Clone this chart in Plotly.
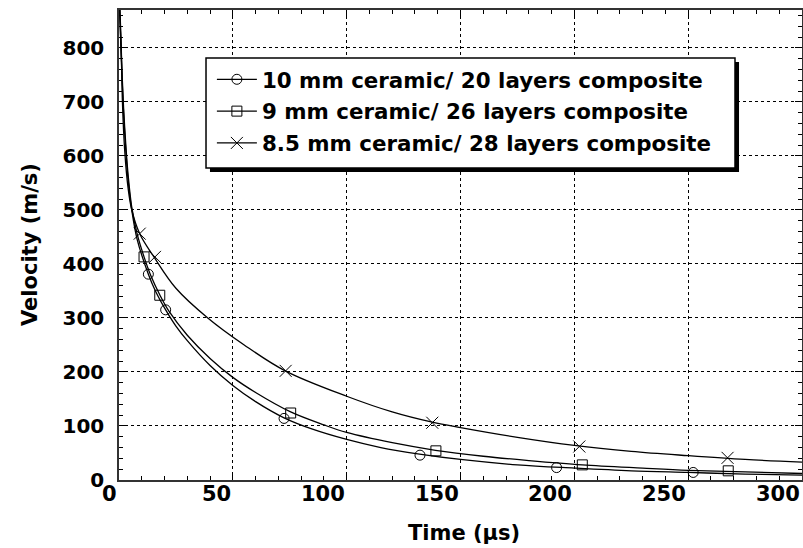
import plotly.graph_objects as go

# ---- data ----
series_names = [
    "10 mm ceramic/ 20 layers composite",
    "9 mm ceramic/ 26 layers composite",
    "8.5 mm ceramic/ 28 layers composite",
]

# measured points (markers)
circle_t = [12.9, 20.5, 72.5, 132.2, 192.2, 252.2]
circle_v = [381, 315, 114, 46, 23, 14]
square_t = [11.0, 17.9, 75.4, 139.2, 203.5, 267.6]
square_v = [413, 342, 124, 54, 28, 17]
cross_t = [9.1, 15.8, 73.2, 137.6, 202.2, 267.3]
cross_v = [456, 413, 202, 106, 62, 41]

# fitted curves
circle_fit_t = [0.3, 1, 2, 3, 4, 5.6, 8, 12.9, 16, 20.5, 25, 30, 40, 50, 60, 72.5, 85, 100, 115, 132, 150, 175, 200, 225, 250, 275, 300]
circle_fit_v = [870, 780, 680, 610, 555, 500, 445, 381, 350, 315, 285, 258, 212, 175, 145, 115, 94, 75, 60, 48, 38, 28, 22, 17, 14, 11, 9]
square_fit_t = [0.3, 1, 2, 3, 4, 5.6, 8, 11, 14, 18, 22, 30, 40, 50, 60, 75.4, 90, 100, 120, 139, 160, 180, 203.5, 230, 250, 275, 300]
square_fit_v = [870, 790, 690, 620, 565, 505, 455, 413, 378, 342, 312, 268, 225, 190, 162, 126, 102, 88, 69, 55, 44, 36, 28, 22, 18, 15, 12]
cross_fit_t = [0.4, 1, 1.5, 2.5, 4, 5.6, 9.1, 15.5, 25, 39, 55, 73, 100, 120, 137.6, 150, 175, 200, 225, 250, 275, 300]
cross_fit_v = [870, 800, 700, 610, 540, 500, 456, 412, 355, 300, 250, 202, 155, 126, 107, 97, 79, 64, 53, 45, 38, 33]

x_ticks = [0, 50, 100, 150, 200, 250, 300]
y_ticks = [0, 100, 200, 300, 400, 500, 600, 700, 800]

FONT = "DejaVu Sans, Liberation Sans, sans-serif"

fig = go.Figure()

fits = [(circle_fit_t, circle_fit_v), (square_fit_t, square_fit_v), (cross_fit_t, cross_fit_v)]
pts = [(circle_t, circle_v, "circle-open", 10), (square_t, square_v, "square-open", 10), (cross_t, cross_v, "x-thin-open", 12)]

for i, (name, (ft, fv), (pt, pv, sym, sz)) in enumerate(zip(series_names, fits, pts)):
    fig.add_trace(go.Scatter(x=ft, y=fv, mode="lines", line=dict(color="black", width=1.3, shape="spline"),
                             showlegend=False, hoverinfo="skip"))
    fig.add_trace(go.Scatter(x=pt, y=pv, mode="markers", showlegend=False,
                             marker=dict(symbol=sym, size=sz, color="black", line=dict(color="black", width=1))))
    # legend sample: line + marker
    fig.add_trace(go.Scatter(x=[None], y=[None], mode="lines+markers", name=name, legendgroup=f"g{i}",
                             line=dict(color="black", width=1.2),
                             marker=dict(symbol=sym, size=sz, color="black", line=dict(color="black", width=1))))

axis_common = dict(
    showline=True, linecolor="#333", linewidth=1.5, mirror="ticks",
    ticks="inside", ticklen=7, tickwidth=1, tickcolor="black",
    showgrid=True, gridcolor="black", griddash="dot", gridwidth=1,
    zeroline=False, automargin=False,
)

# legend frame with drop shadow (paper coords)
fig.add_shape(type="rect", xref="paper", yref="paper", x0=0.1332, x1=0.9078, y0=0.6553, y1=0.8894,
              fillcolor="black", line=dict(width=0), layer="above")
fig.add_shape(type="rect", xref="paper", yref="paper", x0=0.1274, x1=0.9019, y0=0.6638, y1=0.8979,
              fillcolor="white", line=dict(color="black", width=1.5), layer="above")

annotations = [
    dict(text="Time (\u03bcs)", xref="paper", yref="paper", x=0.505, y=0, yshift=-53,
         xanchor="center", yanchor="middle", showarrow=False,
         font=dict(family=FONT, size=21, color="black", weight="bold")),
    dict(text="Velocity (m/s)", xref="paper", yref="paper", x=0, y=0.5, xshift=-89,
         xanchor="center", yanchor="middle", textangle=-90, showarrow=False,
         font=dict(family=FONT, size=21, color="black", weight="bold")),
]
# x tick labels, right-aligned at their ticks as in the reference
for xv in x_ticks:
    annotations.append(dict(text=str(xv), xref="x", yref="paper", x=xv, y=0, yshift=0,
                            xanchor="right", yanchor="top", showarrow=False,
                            font=dict(family=FONT, size=21, color="black", weight="bold")))

fig.update_layout(
    width=803, height=548,
    margin=dict(l=119, r=1, t=10, b=68),
    paper_bgcolor="white", plot_bgcolor="white",
    showlegend=True,
    legend=dict(x=0.136, y=0.896, xanchor="left", yanchor="top",
                bgcolor="rgba(0,0,0,0)", borderwidth=0,
                font=dict(family=FONT, size=21.4, color="black", weight="bold"),
                itemwidth=40, traceorder="grouped", tracegroupgap=1),
    xaxis=dict(range=[0, 300], tickvals=x_ticks, showticklabels=False,
               minor=dict(dtick=10, ticks="inside", ticklen=4, tickcolor="black", showgrid=False),
               **axis_common),
    yaxis=dict(range=[0, 870], tickvals=y_ticks, ticklabelstandoff=9,
               tickfont=dict(family=FONT, size=20, color="black", weight="bold"),
               minor=dict(dtick=20, ticks="inside", ticklen=4, tickcolor="black", showgrid=False),
               **axis_common),
    annotations=annotations,
)

# remove the default page margin so the 803x548 figure fills the window exactly
fig.write_html("out.html", config={"displayModeBar": False},
               post_script="document.body.style.margin='0';document.body.style.overflow='hidden';")
